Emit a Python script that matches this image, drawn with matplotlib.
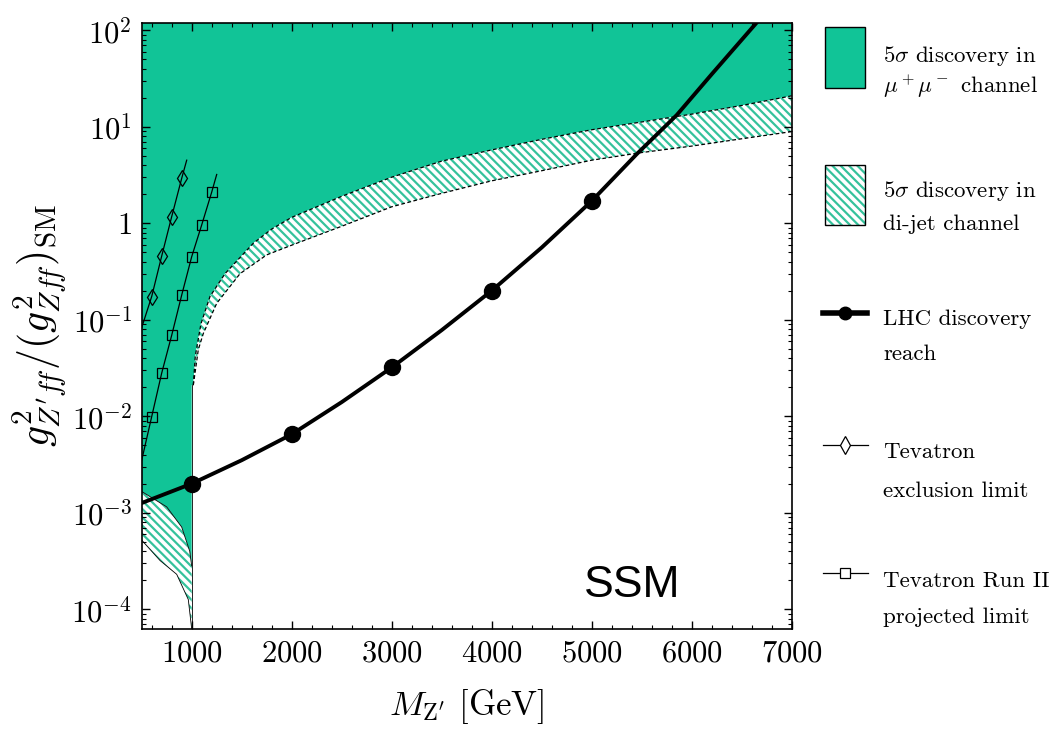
import numpy as np
import matplotlib
matplotlib.use('Agg')
import matplotlib.pyplot as plt
from matplotlib.patches import Rectangle, Polygon
from matplotlib.ticker import LogLocator, FuncFormatter, MultipleLocator, NullFormatter

plt.rcParams['font.family'] = 'serif'
plt.rcParams['font.serif'] = ['cmr10', 'DejaVu Serif']
plt.rcParams['mathtext.fontset'] = 'cm'
plt.rcParams['axes.formatter.use_mathtext'] = True
plt.rcParams['hatch.linewidth'] = 1.6

GREEN = '#11c497'
HATCH = '#35c29c'
HATCH_PAT = '\\\\\\\\'

# LHC discovery reach
lhc_m = [500, 1000, 1500, 2000, 2500, 3000, 3500, 4000, 4500, 5000, 5450, 5850, 6200, 6650]
lhc_g = [1.26e-3, 2.0e-3, 3.5e-3, 6.5e-3, 1.4e-2, 3.2e-2, 7.8e-2, 0.20, 0.56, 1.7, 5.2, 13.2, 35, 120]
lhc_pts_m = [1000, 2000, 3000, 4000, 5000]
lhc_pts_g = [2.0e-3, 6.5e-3, 3.2e-2, 0.20, 1.7]

# Tevatron exclusion limit / Run II projection
tev_m = [500, 600, 700, 800, 900, 950]
tev_g = [0.083, 0.174, 0.457, 1.17, 2.92, 4.5]
run2_m = [500, 600, 700, 800, 900, 1000, 1100, 1200, 1250]
run2_g = [3.5e-3, 9.9e-3, 0.028, 0.069, 0.18, 0.45, 0.96, 2.1, 3.2]

# mu+mu- discovery region: lower edge below 1 TeV
mumu_left_m = [500, 750, 900, 980, 1000]
mumu_left_g = [1.66e-3, 1.15e-3, 7.1e-4, 4.0e-4, 2.8e-4]

# di-jet band
dijet_hi_m = [1016, 1036, 1093, 1183, 1333, 1616, 1800, 2000, 2500, 3000, 3500, 4000, 4500,
              5000, 5500, 6000, 6500, 7000]
dijet_hi_g = [0.021, 0.042, 0.091, 0.174, 0.30, 0.62, 0.87, 1.15, 1.9, 3.0, 4.4, 5.75, 7.4,
              9.3, 11.2, 13.5, 16.6, 20.9]
dijet_lo_m = [1016, 1066, 1116, 1250, 1483, 1750, 2050, 2500, 3000, 3500, 4000, 4500,
              5000, 5500, 6000, 6500, 7000]
dijet_lo_g = [0.021, 0.049, 0.072, 0.148, 0.30, 0.47, 0.62, 0.93, 1.48, 2.04, 2.75, 3.5,
              4.5, 5.4, 6.3, 7.5, 8.9]
dijet_left_lo_m = [500, 683, 850, 966]
dijet_left_lo_g = [5.2e-4, 3.2e-4, 2.3e-4, 1.26e-4]

YBOT = 10 ** -4.205
YTOP = 10 ** 2.078

fig = plt.figure(figsize=(10.62, 7.34), dpi=100)
ax = fig.add_axes([141.7 / 1062, 1 - 629 / 734, 650 / 1062, (629 - 22.7) / 734])
ax.set_yscale('log')
ax.set_xlim(500, 7000)
ax.set_ylim(YBOT, YTOP)

# green region (mu+mu-)
gx = [500] + mumu_left_m + [1000] + dijet_hi_m + [7000]
gy = [YTOP] + mumu_left_g + [dijet_hi_g[0]] + dijet_hi_g + [YTOP]
ax.add_patch(Polygon(np.column_stack([gx, gy]), closed=True, facecolor=GREEN,
                     edgecolor='none', zorder=1))

# hatched di-jet band
bx = dijet_hi_m + dijet_lo_m[::-1]
by = dijet_hi_g + dijet_lo_g[::-1]
ax.add_patch(Polygon(np.column_stack([bx, by]), closed=True, facecolor='white',
                     edgecolor=HATCH, hatch=HATCH_PAT, linewidth=0, zorder=1))
lx = mumu_left_m + [1000] + dijet_left_lo_m[::-1]
ly = mumu_left_g + [YBOT] + dijet_left_lo_g[::-1]
ax.add_patch(Polygon(np.column_stack([lx, ly]), closed=True, facecolor='white',
                     edgecolor=HATCH, hatch=HATCH_PAT, linewidth=0, zorder=1))

ax.plot(dijet_hi_m, dijet_hi_g, color='black', lw=0.9, ls=(0, (3, 2)), zorder=2)
ax.plot(dijet_lo_m, dijet_lo_g, color='black', lw=0.9, ls=(0, (3, 2)), zorder=2)
ax.plot(mumu_left_m, mumu_left_g, color='black', lw=0.6, zorder=2)
ax.plot(dijet_left_lo_m + [1000], dijet_left_lo_g + [YBOT], color='black', lw=0.6, zorder=2)
ax.plot([1000, 1000], [YBOT, dijet_hi_g[0]], color='black', lw=0.6, zorder=2)

# Tevatron curves
ax.plot(tev_m, tev_g, color='black', lw=0.9, marker='d', ms=8, mfc='none',
        mew=0.9, markevery=slice(1, -1), zorder=3)
ax.plot(run2_m, run2_g, color='black', lw=0.9, marker='s', ms=6.5, mfc='none',
        mew=0.9, markevery=slice(1, -1), zorder=3)

# LHC reach
ax.plot(lhc_m, lhc_g, color='black', lw=2.8, zorder=4)
ax.plot(lhc_pts_m, lhc_pts_g, 'o', color='black', ms=11.5, zorder=5)

ax.text(0.754, 0.0714, 'SSM', transform=ax.transAxes, ha='center', va='center',
        fontsize=32, family='Liberation Sans', zorder=6)

# axes formatting
ax.xaxis.set_minor_locator(MultipleLocator(200))
ax.set_xticks([1000, 2000, 3000, 4000, 5000, 6000, 7000])
ax.set_xticklabels(['$1000$', '$2000$', '$3000$', '$4000$', '$5000$', '$6000$', '$7000$'])
ax.yaxis.set_major_locator(LogLocator(base=10, numticks=20))
ax.yaxis.set_minor_locator(LogLocator(base=10, subs=np.arange(2, 10), numticks=20))
ax.yaxis.set_minor_formatter(NullFormatter())


def yfmt(v, pos):
    e = int(round(np.log10(v)))
    return '$1$' if e == 0 else r'$10^{%d}$' % e


ax.yaxis.set_major_formatter(FuncFormatter(yfmt))
ax.tick_params(which='both', direction='in', top=True, right=True, labelsize=22)
ax.tick_params(which='major', length=6, width=1.0)
ax.tick_params(which='minor', length=3, width=0.8)
ax.tick_params(axis='x', pad=8)
ax.tick_params(axis='y', pad=7)
for s in ax.spines.values():
    s.set_linewidth(1.2)
    s.set_zorder(10)

ax.set_xlabel(r'$M_{\mathrm{Z}^\prime}$ [GeV]', fontsize=25, labelpad=14)
ax.set_ylabel(r'$g^2_{Z^\prime f\!f}/(g^2_{Zf\!f})_{\mathrm{SM}}$', fontsize=30, labelpad=2)

# legend drawn in pixel coordinates
lax = fig.add_axes([0.765, 0, 0.235, 1], facecolor='none')
lax.set_xlim(0.765 * 1062, 1062)
lax.set_ylim(734, 0)
lax.set_xticks([])
lax.set_yticks([])
lax.axis('off')

lax.add_patch(Rectangle((825, 26.7), 40, 61.6, facecolor=GREEN, edgecolor='black', lw=1.0))
lax.add_patch(Rectangle((825, 165), 40, 60, facecolor='white', edgecolor=HATCH,
                        hatch=HATCH_PAT, lw=0))
lax.add_patch(Rectangle((825, 165), 40, 60, fill=False, edgecolor='black', lw=1.0))
lax.plot([823, 867], [313, 313], color='black', lw=4)
lax.plot([845], [313], 'o', color='black', ms=9)
lax.plot([823, 868], [445, 445], color='black', lw=0.9)
lax.plot([845], [445], 'd', color='black', ms=9, mfc='white', mew=0.9)
lax.plot([823, 868], [573, 573], color='black', lw=0.9)
lax.plot([845], [573], 's', color='black', ms=7.5, mfc='white', mew=0.9)

legend_lines = [
    (r'$5\sigma$ discovery in', 61.7), (r'$\mu^+\mu^-$ channel', 93.3),
    (r'$5\sigma$ discovery in', 196.7), ('di-jet channel', 230),
    ('LHC discovery', 325), ('reach', 360),
    ('Tevatron', 458.3), ('exclusion limit', 496.7),
    ('Tevatron Run II', 586.7), ('projected limit', 623),
]
for txt, yb in legend_lines:
    lax.text(883, yb, txt, fontsize=16.5, ha='left', va='baseline')

fig.savefig('out.png', dpi=100)
